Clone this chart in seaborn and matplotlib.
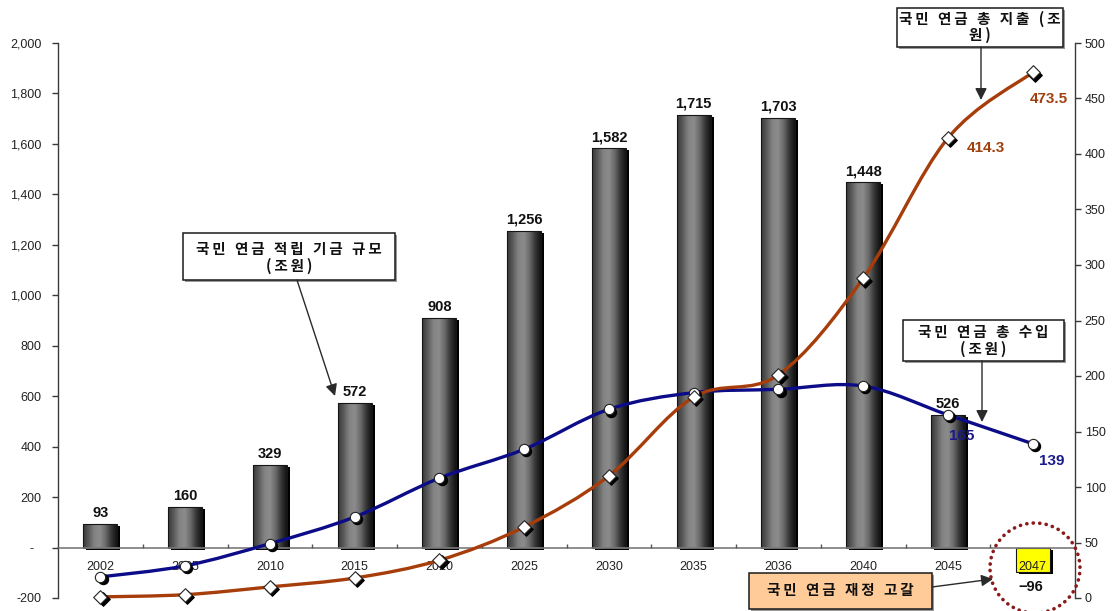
import numpy as np
import pandas as pd
import matplotlib
matplotlib.use("Agg")
import matplotlib.pyplot as plt
import seaborn as sns
from matplotlib.colors import LinearSegmentedColormap
from matplotlib.patches import Rectangle, Ellipse, PathPatch, FancyArrowPatch
from matplotlib.path import Path
from matplotlib.transforms import ScaledTranslation
from matplotlib.ticker import FuncFormatter, FixedLocator

# ---------------- data ----------------
years = ["2002", "2005", "2010", "2015", "2020", "2025", "2030", "2035", "2036", "2040", "2045", "2047"]
fund = [93, 160, 329, 572, 908, 1256, 1582, 1715, 1703, 1448, 526, -96]          # 적립기금 (조원, left axis)
revenue = [19, 29, 49, 73, 108, 134, 170, 185, 188, 191, 165, 139]              # 총 수입 (조원, right axis)
expenditure = [1, 3, 10, 18, 34, 64, 110, 181, 201, 288, 414.3, 473.5]          # 총 지출 (조원, right axis)
left_ticks = [-200, 0, 200, 400, 600, 800, 1000, 1200, 1400, 1600, 1800, 2000]
right_ticks = [0, 50, 100, 150, 200, 250, 300, 350, 400, 450, 500]
revenue_labels = {"2045": "165", "2047": "139"}
expenditure_labels = {"2045": "414.3", "2047": "473.5"}

sns.set_theme(style="white")
plt.rcParams["font.family"] = ["Liberation Sans", "DejaVu Sans"]
KR = ["Noto Sans CJK KR", "DejaVu Sans"]
TS = "\u2009"  # thin space for letter spacing (falls back to DejaVu Sans)

def spaced(s):
    words = s.split(" ")
    return ("  " + TS).join(TS.join(list(w)) for w in words)

W, H = 1112, 611
fig = plt.figure(figsize=(W / 100, H / 100), dpi=100)
ax = fig.add_axes([58 / W, 13 / H, (1075 - 58) / W, (598 - 43) / H])

def F(x, y):
    return (x / W, 1 - y / H)

# ---------------- bars ----------------
df = pd.DataFrame({"year": years, "fund": fund})
palette = ["#777777" if v >= 0 else "#ffff00" for v in fund]
sns.barplot(data=df, x="year", y="fund", hue="year", palette=palette, legend=False,
            width=0.40, saturation=1, ax=ax, edgecolor="#151515", linewidth=0.8)

cyl = LinearSegmentedColormap.from_list(
    "cyl", ["#383838", "#5a5a5a", "#838383", "#8c8c8c", "#6a6a6a", "#363636", "#121212"])
grad = np.linspace(0, 1, 256).reshape(1, -1)
bars = sorted(ax.patches, key=lambda p: p.get_x())
shadow_tr = ax.transData + ScaledTranslation(3 / 100, -2 / 100, fig.dpi_scale_trans)
for p, v in zip(bars, fund):
    x0, w, y0, h = p.get_x(), p.get_width(), p.get_y(), p.get_height()
    ax.add_patch(Rectangle((x0, y0), w, h, facecolor="black", edgecolor="none",
                           transform=shadow_tr, zorder=0.8))
    if v > 0:
        im = ax.imshow(grad, cmap=cyl, extent=(x0, x0 + w, y0, y0 + h), aspect="auto",
                       interpolation="bicubic", zorder=0.9)
        im.set_clip_path(p)
        p.set_facecolor("none")
    p.set_zorder(1)

for i, v in enumerate(fund):
    if v >= 0:
        ax.annotate(f"{v:,}", (i, v), xytext=(0, 11), textcoords="offset pixels",
                    ha="center", va="center", fontsize=10.5, fontweight="bold", color="#111111")
    else:
        ax.annotate(f"{v:,}".replace("-", "−"), (i, v), xytext=(-2, -15), textcoords="offset pixels",
                    ha="center", va="center", fontsize=10.5, fontweight="bold", color="#111111")

ax.set_xlim(-0.5, len(years) - 0.5)
ax.set_ylim(-200, 2000)
ax.set_xlabel("")
ax.set_ylabel("")
ax.set_axisbelow(False)
for s in ["top", "right"]:
    ax.spines[s].set_visible(False)
ax.spines["bottom"].set_position(("data", 0))
ax.spines["bottom"].set_color("#7a7a7a")
ax.spines["bottom"].set_linewidth(1.2)
ax.spines["left"].set_color("#3a3a3a")
ax.spines["left"].set_linewidth(1.0)

ax.xaxis.set_major_locator(FixedLocator(range(len(years))))
ax.set_xticklabels(years)
ax.xaxis.set_minor_locator(FixedLocator([i + 0.5 for i in range(len(years) - 1)]))
ax.tick_params(axis="x", which="major", length=0, pad=10, labelsize=9, labelcolor="#222222")
ax.tick_params(axis="x", which="minor", length=3, direction="in", color="#555555", width=1, bottom=True)
ax.set_yticks(left_ticks)
ax.yaxis.set_major_formatter(FuncFormatter(lambda v, _: "-  " if v == 0 else f"{int(v):,}"))
ax.tick_params(axis="y", which="major", length=4, width=1, direction="out", color="#3a3a3a",
               left=True, labelsize=9, labelcolor="#222222", pad=8)

# ---------------- lines (right axis) ----------------
ax2 = ax.twinx()
ax2.set_ylim(0, 500)
ax2.set_yticks(right_ticks)
for s in ["top", "left", "bottom"]:
    ax2.spines[s].set_visible(False)
ax2.spines["right"].set_color("#3a3a3a")
ax2.spines["right"].set_linewidth(1.0)
ax2.tick_params(axis="y", length=4, width=1, direction="out", color="#3a3a3a", right=True,
                labelsize=9, labelcolor="#222222", pad=3)
ax2.grid(False)
ax.grid(False)

pos = np.arange(len(years), dtype=float)

def smooth_path(xs, ys):
    P = np.column_stack([xs, ys]).astype(float)
    n = len(P)
    verts, codes = [P[0]], [Path.MOVETO]
    for i in range(n - 1):
        p0 = P[i - 1] if i > 0 else P[i]
        p1, p2 = P[i], P[i + 1]
        p3 = P[i + 2] if i + 2 < n else P[i + 1]
        verts += [p1 + (p2 - p0) / 6, p2 - (p3 - p1) / 6, p2]
        codes += [Path.CURVE4] * 3
    return Path(verts, codes)

BLUE = "#0c0c88"
ORANGE = "#a63d0b"
for vals, col in [(revenue, BLUE), (expenditure, ORANGE)]:
    pp = PathPatch(smooth_path(pos, vals), facecolor="none", edgecolor=col,
                   lw=2.4, zorder=3, capstyle="round", joinstyle="round")
    ax2.add_patch(pp)
    pp.set_clip_on(False)

sh_tr = ax2.transData + ScaledTranslation(2.2 / 100, -2.2 / 100, fig.dpi_scale_trans)
for vals, mk, sz in [(revenue, "o", 55), (expenditure, "D", 48)]:
    n0 = len(ax2.collections)
    sns.scatterplot(x=pos, y=vals, marker=mk, s=sz, color="black", edgecolor="black",
                    linewidth=0.8, ax=ax2, zorder=4, legend=False)
    ax2.collections[n0].set_offset_transform(sh_tr)
    sns.scatterplot(x=pos, y=vals, marker=mk, s=sz, color="white", edgecolor="#222222",
                    linewidth=0.8, ax=ax2, zorder=5, legend=False)
    for c in ax2.collections[n0:]:
        c.set_clip_on(False)

for yr, txt in revenue_labels.items():
    i = years.index(yr)
    off = (14, -21) if yr == "2045" else (19, -17)
    ax2.annotate(txt, (i, revenue[i]), xytext=off, textcoords="offset pixels", ha="center",
                 va="center", fontsize=11, fontweight="bold", color="#1a1a8c", zorder=6)
for yr, txt in expenditure_labels.items():
    i = years.index(yr)
    off = (38, -10) if yr == "2045" else (16, -27)
    ax2.annotate(txt, (i, expenditure[i]), xytext=off, textcoords="offset pixels", ha="center",
                 va="center", fontsize=11, fontweight="bold", color="#a0400f", zorder=6)

ax2.set_xlim(-0.5, len(years) - 0.5)

# ---------------- callouts ----------------
def box(x0, y0, x1, y1, lines, ys, fc="white", size=10.5):
    fig.add_artist(Rectangle(F(x0 + 2, y1 + 2), (x1 - x0) / W, (y1 - y0) / H, transform=fig.transFigure,
                             facecolor="#9a9a9a", edgecolor="none", zorder=9))
    fig.add_artist(Rectangle(F(x0, y1), (x1 - x0) / W, (y1 - y0) / H, transform=fig.transFigure,
                             facecolor=fc, edgecolor="#1a1a1a", lw=1.1, zorder=10))
    for t, yy in zip(lines, ys):
        fig.text(*F((x0 + x1) / 2, yy), spaced(t), ha="center", va="center", family=KR,
                 fontweight="bold", fontsize=size, color="#111111", zorder=11)

def arrow(a, b):
    fig.add_artist(FancyArrowPatch(F(*a), F(*b), transform=fig.transFigure,
                                   arrowstyle="-|>,head_length=7,head_width=3.5", mutation_scale=1,
                                   color="#2a2a2a", lw=1.0, zorder=10, shrinkA=0, shrinkB=0))

box(183, 233, 395, 280, ["국민 연금 적립 기금 규모", "(조원)"], [249, 266])
arrow((297, 280), (335, 396))
box(897, 8, 1063, 47, ["국민 연금 총 지출 (조", "원)"], [19, 35])
arrow((981, 47), (981, 100))
box(903, 320, 1064, 361, ["국민 연금 총 수입", "(조원)"], [332, 349])
arrow((982, 361), (982, 422))
box(749, 573, 932, 609, ["국민 연금 재정 고갈"], [590], fc="#ffcc99")
arrow((932, 587), (993, 579))

circ = Ellipse(F(1035, 568), 90 / W, 90 / H, transform=fig.transFigure, fill=False,
               edgecolor="#8b1a1a", lw=2.6, linestyle=(0, (0.05, 1.75)), zorder=12)
circ.set_capstyle("round")
fig.add_artist(circ)

fig.savefig("out.png", dpi=100)
